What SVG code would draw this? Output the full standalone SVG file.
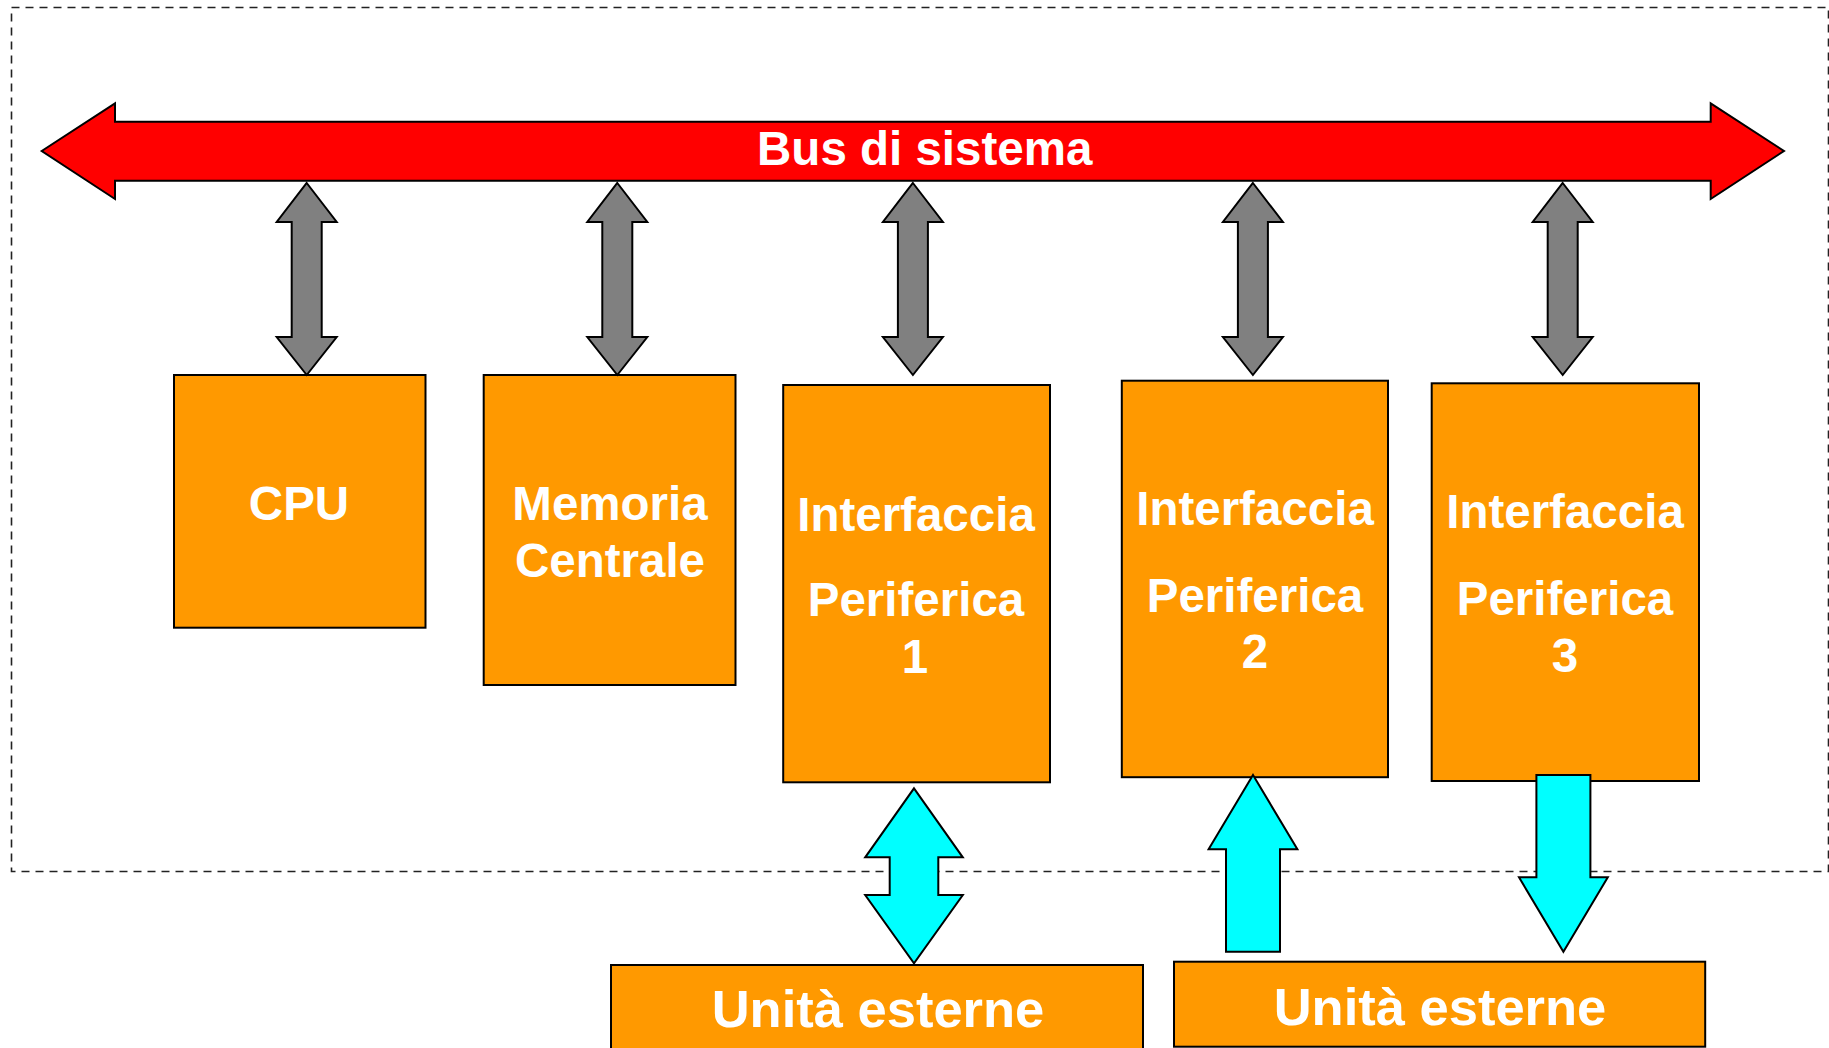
<svg xmlns="http://www.w3.org/2000/svg" width="1829" height="1048" viewBox="0 0 1829 1048">
<style>
.box{fill:#FF9900;stroke:#000;stroke-width:2}
.lbl{fill:#fff;font-family:"Liberation Sans",Arial,sans-serif;font-weight:bold;font-size:47.5px;text-anchor:middle}
.big{font-size:52.5px}
.gray{fill:#808080;stroke:#000;stroke-width:2;stroke-linejoin:miter}
.cyan{fill:#00FFFF;stroke:#000;stroke-width:2;stroke-linejoin:miter}
.bus{fill:#FF0000;stroke:#000;stroke-width:2;stroke-linejoin:miter}
.frame{fill:none;stroke:#222;stroke-width:1.6;stroke-dasharray:8 6}
</style>
<defs>
<path id="garrow" d="M0,183 L30,222 L15,222 L15,337 L30,337 L0,375 L-30,337 L-15,337 L-15,222 L-30,222 Z"/>
</defs>
<rect class="frame" x="11.5" y="7.5" width="1817" height="864"/>
<g id="bus">
<path class="bus" d="M41.7,151 L115,103.3 L115,121.7 L1710.7,121.7 L1710.7,103.3 L1784,151 L1710.7,199 L1710.7,180.7 L115,180.7 L115,199 Z"/>
<text class="lbl" x="924.7" y="165">Bus di sistema</text>
</g>
<g id="cpu">
<rect class="box" x="174" y="375" width="251.5" height="252.7"/>
<text class="lbl" x="299" y="520">CPU</text>
</g>
<g id="memoria">
<rect class="box" x="483.7" y="375" width="251.8" height="310"/>
<text class="lbl" x="610" y="520">Memoria</text>
<text class="lbl" x="610" y="577.3">Centrale</text>
</g>
<g id="ip1">
<rect class="box" x="783.2" y="385" width="266.8" height="397.3"/>
<text class="lbl" x="916" y="530.7">Interfaccia</text>
<text class="lbl" x="916" y="616">Periferica</text>
<text class="lbl" x="915" y="673.3">1</text>
</g>
<g id="ip2">
<rect class="box" x="1121.8" y="380.7" width="266.2" height="396.5"/>
<text class="lbl" x="1255" y="525">Interfaccia</text>
<text class="lbl" x="1255" y="611.7">Periferica</text>
<text class="lbl" x="1255" y="668.3">2</text>
</g>
<g id="ip3">
<rect class="box" x="1431.7" y="383.3" width="267.3" height="397.7"/>
<text class="lbl" x="1565" y="528.3">Interfaccia</text>
<text class="lbl" x="1565" y="615">Periferica</text>
<text class="lbl" x="1565" y="672.3">3</text>
</g>
<g id="ue1">
<rect class="box" x="611" y="965" width="532" height="90"/>
<text class="lbl big" x="878" y="1026.7">Unità esterne</text>
</g>
<g id="ue2">
<rect class="box" x="1174" y="961.7" width="531.2" height="85"/>
<text class="lbl big" x="1440" y="1025">Unità esterne</text>
</g>
<g id="connectors">
<use href="#garrow" class="gray" transform="translate(306.7,0)"/>
<use href="#garrow" class="gray" transform="translate(617.3,0)"/>
<use href="#garrow" class="gray" transform="translate(912.9,0)"/>
<use href="#garrow" class="gray" transform="translate(1252.9,0)"/>
<use href="#garrow" class="gray" transform="translate(1562.7,0)"/>
<path class="cyan" d="M914,788.3 L962.8,857.3 L938.3,857.3 L938.3,895 L962.8,895 L914,963.3 L865.2,895 L889.7,895 L889.7,857.3 L865.2,857.3 Z"/>
<path class="cyan" d="M1253,775 L1297.4,849.3 L1280,849.3 L1280,951.7 L1226,951.7 L1226,849.3 L1208.6,849.3 Z"/>
<path class="cyan" d="M1536.4,775 L1590.4,775 L1590.4,877.3 L1607.8,877.3 L1563.4,951.7 L1519,877.3 L1536.4,877.3 Z"/>
</g>
</svg>
